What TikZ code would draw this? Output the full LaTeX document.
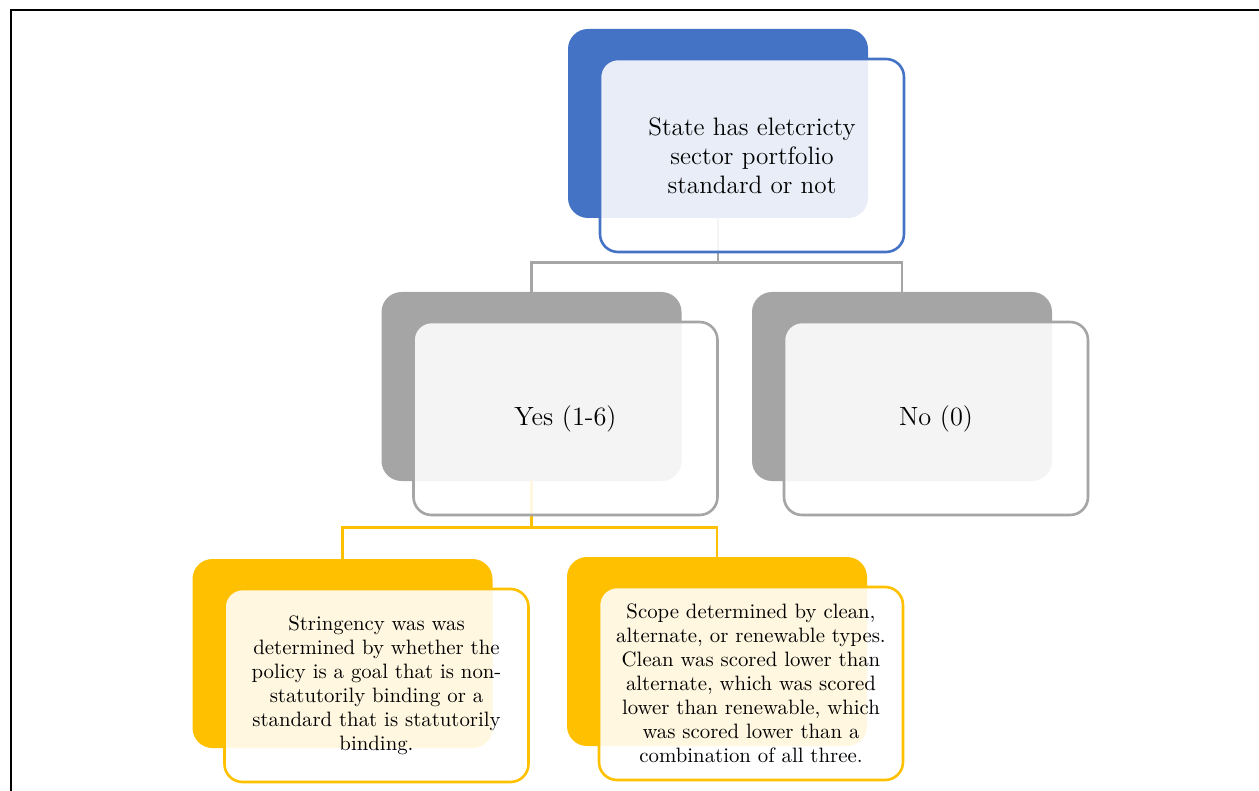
\documentclass[tikz,border=0pt]{standalone}
\usepackage{tikz}
\definecolor{accBlue}{HTML}{4472C4}
\definecolor{accGray}{HTML}{A5A5A5}
\definecolor{accGold}{HTML}{FFC000}

\begin{document}
\begin{tikzpicture}[x=0.5pt,y=-0.5pt,line cap=round,
  backbox/.style={fill=#1,rounded corners=10pt,minimum width=150pt,minimum height=94.5pt,inner sep=0pt},
  frontbox/.style={draw=#1,line width=1.3pt,fill=white,fill opacity=0.88,text opacity=1,rounded corners=9pt,
    minimum width=152pt,minimum height=96.5pt,inner sep=0pt,align=center,text=black},
  bigtext/.style={font=\fontsize{12.6}{14.5}\selectfont},
  yestext/.style={font=\fontsize{13.2}{15}\selectfont},
  smalltext/.style={font=\fontsize{10.4}{12}\selectfont},
  link/.style={draw=#1,line width=1.3pt}]
\useasboundingbox (0,0) rectangle (1259,791);
\draw[line width=1.1pt] (11,791) -- (11,10) -- (1259,10);

\node[backbox=accBlue] (stdBack) at (718,123.5) {};
\node[backbox=accGray] (yesBack) at (531.5,386.5) {};
\node[backbox=accGray] (noBack) at (902,386.5) {};
\node[backbox=accGold] (strBack) at (342.5,653.5) {};
\node[backbox=accGold] (scoBack) at (717,651.5) {};

\draw[link=accGray] (stdBack.south) -- ++(0,44) coordinate (stdJoin);
\draw[link=accGray] (stdJoin) -| (yesBack.north);
\draw[link=accGray] (stdJoin) -| (noBack.north);
\draw[link=accGold] (yesBack.south) -- ++(0,46) coordinate (yesJoin);
\draw[link=accGold] (yesJoin) -| (strBack.north);
\draw[link=accGold] (yesJoin) -| (scoBack.north);

\node[frontbox=accBlue,bigtext] (stdFront) at ([shift={(34,32)}]stdBack.center)
  {State has eletcricty\\sector portfolio\\standard or not};
\node[frontbox=accGray,yestext] (yesFront) at ([shift={(34,32)}]yesBack.center) {Yes (1-6)};
\node[frontbox=accGray,yestext] (noFront) at ([shift={(34,32)}]noBack.center) {No (0)};
\node[frontbox=accGold,smalltext] (strFront) at ([shift={(34,32)}]strBack.center)
  {Stringency was was\\determined by whether the\\policy is a goal that is non-\\statutorily binding or a\\standard that is statutorily\\binding.};
\node[frontbox=accGold,smalltext] (scoFront) at ([shift={(34,32)}]scoBack.center)
  {Scope determined by clean,\\alternate, or renewable types.\\Clean was scored lower than\\alternate, which was scored\\lower than renewable, which\\was scored lower than a\\combination of all three.};
\end{tikzpicture}
\end{document}
